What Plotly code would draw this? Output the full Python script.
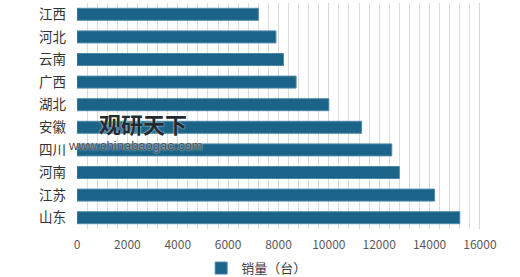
import plotly.graph_objects as go

provinces = ["山东", "江苏", "河南", "四川", "安徽", "湖北", "广西", "云南", "河北", "江西"]
sales = [15200, 14200, 12800, 12500, 11300, 10000, 8700, 8200, 7900, 7200]
x_ticks = [0, 2000, 4000, 6000, 8000, 10000, 12000, 14000, 16000]
series_name = "销量（台）"

font_family = "Noto Sans CJK SC, Noto Sans, sans-serif"

fig = go.Figure()
fig.add_trace(go.Bar(
    y=provinces,
    x=sales,
    orientation="h",
    name=series_name,
    marker=dict(color="#1b6388", line=dict(color="#4d89aa", width=1)),
    showlegend=True,
))

fig.update_layout(
    width=520,
    height=277,
    margin=dict(l=77, r=30, t=3, b=48, autoexpand=False),
    paper_bgcolor="white",
    plot_bgcolor="white",
    bargap=0.47,
    font=dict(family=font_family, color="#404040"),
    xaxis=dict(
        range=[0, 16400],
        tickvals=x_ticks,
        ticktext=[str(v) for v in x_ticks],
        showgrid=True,
        gridcolor="#d9d9d9",
        gridwidth=1,
        minor=dict(dtick=400, showgrid=True, gridcolor="#dcdcdc", gridwidth=1),
        zeroline=False,
        showline=False,
        ticks="",
        ticklabelstandoff=7,
        tickfont=dict(size=12, color="#595959", family=font_family),
        fixedrange=True,
    ),
    yaxis=dict(
        categoryorder="array",
        categoryarray=provinces,
        showgrid=False,
        showline=False,
        ticks="",
        ticklabelstandoff=10,
        tickfont=dict(size=13.5, color="#333333", family=font_family),
    ),
    legend=dict(
        orientation="h",
        x=0.435,
        xanchor="center",
        y=-0.173,
        yanchor="middle",
        font=dict(size=13, color="#404040", family=font_family),
        itemwidth=30,
    ),
)

# watermark
fig.add_annotation(
    xref="paper", yref="paper",
    x=(143 - 77) / 413, y=(229 - 123) / 226,
    text="<b>观研天下</b>", showarrow=False,
    font=dict(size=22, color="#1f2a33", family=font_family,
              shadow="0 0 2px white"),
    xanchor="center", yanchor="middle",
)
fig.add_annotation(
    xref="paper", yref="paper",
    x=(135 - 77) / 413, y=(229 - 145) / 226,
    text="www.chinabaogao.com", showarrow=False,
    font=dict(size=13, color="#505050", family="Liberation Sans, Arial, sans-serif",
              shadow="0 0 2px white"),
    xanchor="center", yanchor="middle",
)

fig.write_html("out.html")
